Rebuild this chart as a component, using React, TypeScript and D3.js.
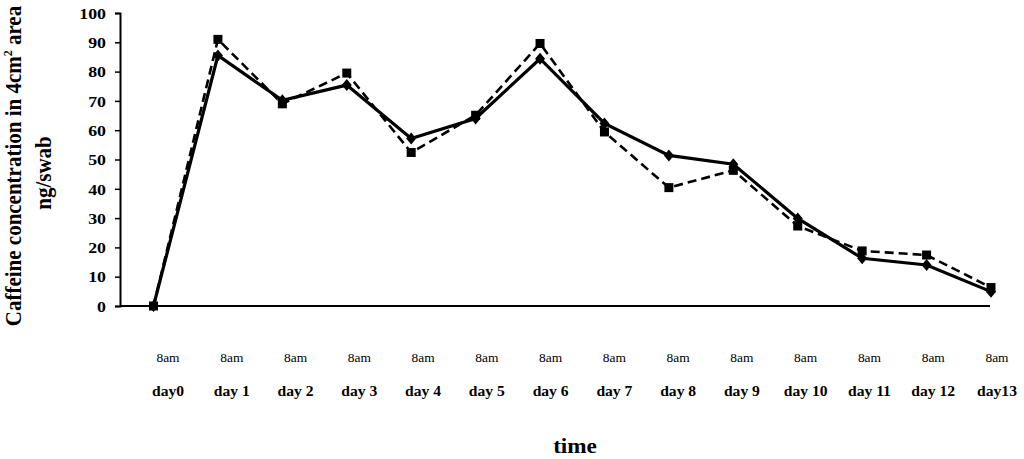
import React, { useRef, useEffect } from "react";
import * as d3 from "d3";

// category labels along the time axis
const days = ["day0", "day 1", "day 2", "day 3", "day 4", "day 5", "day 6", "day 7", "day 8", "day 9", "day 10", "day 11", "day 12", "day13"];
const hourLabel = "8am";

// solid line with diamond markers
const seriesSolid = [0, 85.5, 70.2, 75.4, 57.2, 64, 84.4, 62.3, 51.4, 48.4, 29.9, 16.3, 14, 4.9];
// dashed line with square markers
const seriesDashed = [0, 91, 69, 79.5, 52.4, 65.1, 89.6, 59.4, 40.4, 46.3, 27.3, 18.8, 17.4, 6.3];

const yTicks = [0, 10, 20, 30, 40, 50, 60, 70, 80, 90, 100];

const FONT = "'Liberation Serif', 'Times New Roman', serif";

export default function App() {
  const ref = useRef<SVGSVGElement>(null);

  useEffect(() => {
    if (!ref.current) return;
    const svg = d3.select(ref.current);
    svg.selectAll("*").remove();

    const x = d3.scalePoint<string>().domain(days).range([153.5, 991]);
    const xLabel = d3.scalePoint<string>().domain(days).range([168, 997]);
    const y = d3.scaleLinear().domain([0, 100]).range([306, 13]);

    // y axis
    const yAxis = svg
      .append("g")
      .attr("transform", "translate(120,0)")
      .call(d3.axisLeft(y).tickValues(yTicks).tickSize(5).tickSizeOuter(5).tickPadding(14));
    yAxis.select(".domain").attr("stroke", "#000").attr("stroke-width", 2);
    yAxis.selectAll(".tick line").attr("stroke", "#000").attr("stroke-width", 1.5);
    yAxis
      .selectAll<SVGTextElement, number>(".tick text")
      .attr("font-family", FONT)
      .attr("font-weight", "bold")
      .attr("font-size", 15.5)
      .attr("fill", "#000")
      .attr("x", 0)
      .attr("dy", "0.34em")
      .attr("transform", "translate(-14,0) scale(1.15,1)");

    // x axis line (no ticks)
    svg
      .append("line")
      .attr("x1", 120)
      .attr("x2", 990)
      .attr("y1", y(0))
      .attr("y2", y(0))
      .attr("stroke", "#000")
      .attr("stroke-width", 2);

    // lines
    const line = d3
      .line<number>()
      .x((_, i) => x(days[i])!)
      .y((d) => y(d));

    svg
      .append("path")
      .datum(seriesDashed)
      .attr("d", line)
      .attr("fill", "none")
      .attr("stroke", "#000")
      .attr("stroke-width", 2.6)
      .attr("stroke-dasharray", "9,5");

    svg
      .append("path")
      .datum(seriesSolid)
      .attr("d", line)
      .attr("fill", "none")
      .attr("stroke", "#000")
      .attr("stroke-width", 3.2);

    // diamonds
    svg
      .append("g")
      .selectAll("path")
      .data(seriesSolid)
      .enter()
      .append("path")
      .attr("transform", (d, i) => `translate(${x(days[i])},${y(d)})`)
      .attr("d", "M0,-6L5,0L0,6L-5,0Z")
      .attr("fill", "#000");

    // squares
    svg
      .append("g")
      .selectAll("rect")
      .data(seriesDashed)
      .enter()
      .append("rect")
      .attr("x", (_, i) => x(days[i])! - 4.5)
      .attr("y", (d) => y(d) - 4.5)
      .attr("width", 9)
      .attr("height", 9)
      .attr("fill", "#000");

    // category labels
    const labels = svg
      .append("g")
      .selectAll("g")
      .data(days)
      .enter()
      .append("g")
      .attr("transform", (d) => `translate(${xLabel(d)},0)`);

    labels
      .append("text")
      .attr("transform", "translate(0,362) scale(1.12,1)")
      .attr("text-anchor", "middle")
      .attr("font-family", FONT)
      .attr("font-size", 12)
      .text(hourLabel);

    labels
      .append("text")
      .attr("transform", "translate(0,396) scale(1.04,1)")
      .attr("text-anchor", "middle")
      .attr("font-family", FONT)
      .attr("font-weight", "bold")
      .attr("font-size", 15)
      .text((d) => d);

    // x title
    svg
      .append("text")
      .attr("transform", "translate(575,453) scale(1.16,1)")
      .attr("text-anchor", "middle")
      .attr("font-family", FONT)
      .attr("font-weight", "bold")
      .attr("font-size", 20)
      .text("time");

    // y title (two lines)
    const t1 = svg
      .append("text")
      .attr("transform", "translate(21,166) scale(1.12,1) rotate(-90)")
      .attr("text-anchor", "middle")
      .attr("font-family", FONT)
      .attr("font-weight", "bold")
      .attr("font-size", 21);
    t1.append("tspan").text("Caffeine concentration in 4cm");
    t1.append("tspan").attr("dy", -8).attr("font-size", 12).text("2");
    t1.append("tspan").attr("dy", 8).text(" area");

    svg
      .append("text")
      .attr("transform", "translate(51,173) scale(1.12,1) rotate(-90)")
      .attr("text-anchor", "middle")
      .attr("font-family", FONT)
      .attr("font-weight", "bold")
      .attr("font-size", 21)
      .text("ng/swab");
  }, []);

  return (
    <svg
      ref={ref}
      width={1024}
      height={459}
      style={{ position: "absolute", left: 0, top: 0, background: "#fff" }}
    />
  );
}
